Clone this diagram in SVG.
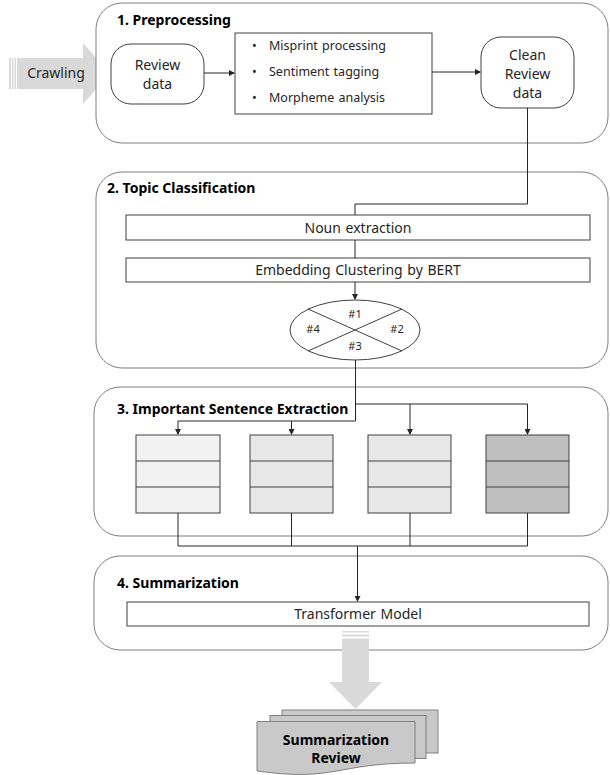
<svg xmlns="http://www.w3.org/2000/svg" width="610" height="775" viewBox="0 0 610 775">
<defs>
<marker id="ah" markerWidth="6" markerHeight="6" refX="5" refY="3" orient="auto" markerUnits="userSpaceOnUse">
<path d="M0,0 L6,3 L0,6 Z" fill="#262626"/>
</marker>
<style>
.stage{fill:#fff;stroke:#7f7f7f;stroke-width:1}
.box{fill:#fff;stroke:#404040;stroke-width:1}
.title{font-family:"Noto Sans","Open Sans",sans-serif;font-weight:bold;font-size:14px;fill:#000}
.t{font-family:"Noto Sans","Open Sans",sans-serif;font-size:14px;fill:#262626;word-spacing:1px}
.s{font-family:"Noto Sans","Open Sans",sans-serif;font-size:12.5px;fill:#262626;word-spacing:1px}
.n{font-family:"Noto Sans","Open Sans",sans-serif;font-size:11px;fill:#262626}
.c{fill:none;stroke:#262626;stroke-width:1}
.col{stroke:#404040;stroke-width:1}
.arr{fill:#d9d9d9}
.doc{fill:#c9c9c9;stroke:#808080;stroke-width:1}
</style>
</defs>
<rect width="610" height="775" fill="#fff"/>

<g id="crawling">
<rect x="9" y="58" width="2" height="31" class="arr"/>
<rect x="12" y="58" width="1.5" height="31" class="arr"/>
<rect x="14.5" y="58" width="1.5" height="31" class="arr"/>
<polygon points="17,58 83,58 83,43 110,73.5 83,104 83,89 17,89" class="arr"/>
<text x="56" y="78" text-anchor="middle" class="t">Crawling</text>
</g>

<g id="stage1">
<rect x="96" y="3" width="512" height="140" rx="26" class="stage"/>
<text x="117" y="25" class="title">1. Preprocessing</text>
</g>
<g id="review-data">
<rect x="111" y="44" width="93" height="60" rx="20" class="box" stroke="#595959"/>
<text x="157.5" y="70" text-anchor="middle" class="t">Review</text>
<text x="157.5" y="89" text-anchor="middle" class="t">data</text>
</g>
<g id="preprocess-steps">
<rect x="235" y="33" width="197" height="81" class="box" stroke="#595959"/>
<text x="252" y="50" class="s">•</text>
<text x="269" y="50" class="s">Misprint processing</text>
<text x="252" y="76" class="s">•</text>
<text x="269" y="76" class="s">Sentiment tagging</text>
<text x="252" y="102" class="s">•</text>
<text x="269" y="102" class="s">Morpheme analysis</text>
</g>
<g id="clean-review-data">
<rect x="481" y="37" width="93" height="71" rx="20" class="box" stroke="#595959"/>
<text x="527.5" y="60" text-anchor="middle" class="t">Clean</text>
<text x="527.5" y="79" text-anchor="middle" class="t">Review</text>
<text x="527.5" y="98" text-anchor="middle" class="t">data</text>
</g>

<g id="stage2">
<rect x="96" y="172" width="512" height="196" rx="26" class="stage"/>
<text x="107" y="193" class="title">2. Topic Classification</text>
</g>
<g id="noun-extraction">
<rect x="126" y="215" width="464" height="25" class="box"/>
<text x="358" y="232.5" text-anchor="middle" class="t">Noun extraction</text>
</g>
<g id="embedding">
<rect x="126" y="258" width="464" height="24" class="box"/>
<text x="358" y="275" text-anchor="middle" class="t">Embedding Clustering by BERT</text>
</g>
<g id="clusters">
<ellipse cx="355" cy="330" rx="65" ry="30" fill="#fff" stroke="#404040"/>
<line x1="308" y1="309" x2="402" y2="351" stroke="#404040"/>
<line x1="308" y1="351" x2="402" y2="309" stroke="#404040"/>
<text x="355" y="318" text-anchor="middle" class="n">#1</text>
<text x="313" y="333" text-anchor="middle" class="n">#4</text>
<text x="397" y="333" text-anchor="middle" class="n">#2</text>
<text x="355" y="350" text-anchor="middle" class="n">#3</text>
</g>

<g id="stage3">
<rect x="94" y="387" width="514" height="149" rx="26" class="stage"/>
<text x="117" y="414" class="title">3. Important Sentence Extraction</text>
</g>
<g id="col1">
<rect x="136" y="435" width="84" height="78" fill="#f2f2f2" class="col"/>
<line x1="136" y1="461" x2="220" y2="461" class="col"/>
<line x1="136" y1="487" x2="220" y2="487" class="col"/>
</g>
<g id="col2">
<rect x="250" y="435" width="83" height="78" fill="#e7e7e7" class="col"/>
<line x1="250" y1="461" x2="333" y2="461" class="col"/>
<line x1="250" y1="487" x2="333" y2="487" class="col"/>
</g>
<g id="col3">
<rect x="368" y="435" width="83" height="78" fill="#e7e7e7" class="col"/>
<line x1="368" y1="461" x2="451" y2="461" class="col"/>
<line x1="368" y1="487" x2="451" y2="487" class="col"/>
</g>
<g id="col4">
<rect x="486" y="435" width="83" height="78" fill="#bfbfbf" class="col"/>
<line x1="486" y1="461" x2="569" y2="461" class="col"/>
<line x1="486" y1="487" x2="569" y2="487" class="col"/>
</g>

<g id="stage4">
<rect x="94" y="556" width="514" height="94" rx="26" class="stage"/>
<text x="117" y="588" class="title">4. Summarization</text>
</g>
<g id="transformer">
<rect x="127" y="602" width="462" height="24" class="box"/>
<text x="358" y="619" text-anchor="middle" class="t">Transformer Model</text>
</g>

<g id="down-arrow">
<rect x="342" y="631" width="27" height="1.5" class="arr"/>
<rect x="342" y="634.5" width="27" height="2" class="arr"/>
<polygon points="342,638.5 369,638.5 369,682 382,682 355.5,709 329,682 342,682" class="arr"/>
</g>

<g id="summarization-review">
<rect x="282" y="710" width="156" height="43" class="doc"/>
<rect x="270" y="715.5" width="156" height="43" class="doc"/>
<path d="M257,721.5 H415 V763 C336,763 336,782 257,771 Z" class="doc"/>
<text x="336" y="745" text-anchor="middle" class="title" fill="#262626">Summarization</text>
<text x="336" y="763" text-anchor="middle" class="title" fill="#262626">Review</text>
</g>

<g id="connectors">
<line x1="204" y1="73" x2="234" y2="73" class="c" marker-end="url(#ah)"/>
<line x1="432" y1="72" x2="480" y2="72" class="c" marker-end="url(#ah)"/>
<polyline points="527.5,108 527.5,204 355,204 355,215" class="c"/>
<line x1="355" y1="240" x2="355" y2="258" class="c"/>
<line x1="355" y1="282" x2="355" y2="299" class="c" marker-end="url(#ah)"/>
<polyline points="355.5,360 355.5,421 178,421 178,434" class="c" marker-end="url(#ah)"/>
<line x1="291.5" y1="421" x2="291.5" y2="434" class="c" marker-end="url(#ah)"/>
<polyline points="355.5,404 527.5,404 527.5,434" class="c" marker-end="url(#ah)"/>
<line x1="410" y1="404" x2="410" y2="434" class="c" marker-end="url(#ah)"/>
<polyline points="178,513 178,546 527.5,546 527.5,513" class="c"/>
<line x1="291.5" y1="513" x2="291.5" y2="546" class="c"/>
<line x1="410" y1="513" x2="410" y2="546" class="c"/>
<line x1="357.5" y1="546" x2="357.5" y2="601" class="c" stroke-width="1.3" marker-end="url(#ah)"/>
</g>
</svg>
